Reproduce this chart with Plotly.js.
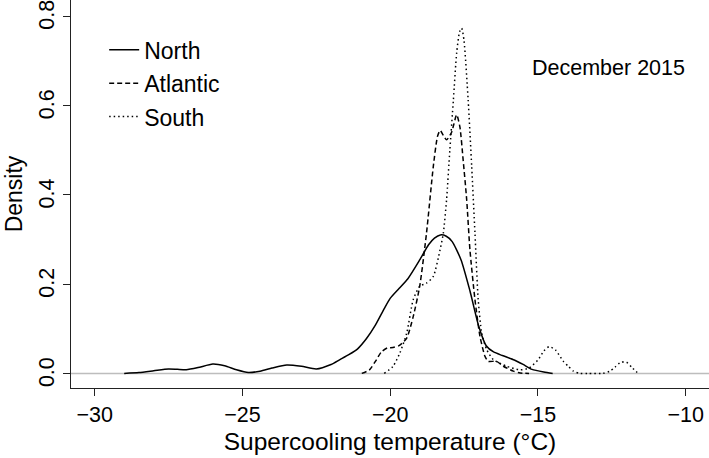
<!DOCTYPE html>
<html>
<head>
<meta charset="utf-8">
<script src="https://cdn.plot.ly/plotly-3.0.1.min.js"></script>
<style>
  html, body { margin: 0; padding: 0; background: #fff; }
  #chart { width: 709px; height: 458px; }
</style>
</head>
<body>
<div id="chart"></div>
<script>
// density curves, December 2015
const northX = [-29.0, -28.5, -28.0, -27.5, -27.2, -26.9, -26.5, -26.0, -25.6, -25.2, -24.8, -24.4, -24.0, -23.5, -23.0, -22.5, -22.0, -21.7, -21.4, -21.1, -20.8, -20.5, -20.2, -20.0, -19.7, -19.4, -19.0, -18.7, -18.5, -18.3, -18.1, -17.9, -17.6, -17.3, -17.0, -16.75, -16.5, -16.2, -15.8, -15.5, -15.2, -14.8, -14.5];
const northY = [0.000, 0.002, 0.006, 0.010, 0.009, 0.008, 0.013, 0.021, 0.017, 0.008, 0.002, 0.005, 0.012, 0.019, 0.016, 0.010, 0.020, 0.031, 0.042, 0.055, 0.078, 0.108, 0.145, 0.168, 0.190, 0.212, 0.254, 0.288, 0.303, 0.310, 0.307, 0.295, 0.254, 0.185, 0.105, 0.062, 0.048, 0.040, 0.030, 0.020, 0.009, 0.003, 0.000];

const atlanticX = [-20.96, -20.7, -20.46, -20.3, -20.1, -19.9, -19.7, -19.44, -19.22, -19.0, -18.77, -18.54, -18.4, -18.31, -18.2, -18.09, -17.92, -17.75, -17.64, -17.53, -17.41, -17.3, -17.13, -16.96, -16.79, -16.68, -16.4, -16.17, -15.83, -15.6, -15.3];
const atlanticY = [0.000, 0.008, 0.031, 0.048, 0.057, 0.058, 0.062, 0.079, 0.127, 0.195, 0.314, 0.463, 0.530, 0.544, 0.533, 0.523, 0.540, 0.579, 0.552, 0.478, 0.389, 0.277, 0.165, 0.083, 0.038, 0.027, 0.027, 0.016, 0.005, 0.001, 0.000];

const southX = [-20.2, -19.9, -19.67, -19.44, -19.22, -19.0, -18.77, -18.54, -18.31, -18.2, -18.09, -17.98, -17.86, -17.75, -17.65, -17.58, -17.5, -17.36, -17.24, -17.13, -17.02, -16.9, -16.73, -16.51, -16.06, -15.6, -15.3, -15.0, -14.8, -14.62, -14.4, -14.14, -13.97, -13.8, -13.58, -13.3, -12.8, -12.56, -12.39, -12.2, -12.0, -11.83, -11.64];
const southY = [0.000, 0.016, 0.046, 0.090, 0.165, 0.195, 0.202, 0.217, 0.277, 0.314, 0.389, 0.500, 0.612, 0.717, 0.765, 0.773, 0.745, 0.612, 0.463, 0.314, 0.165, 0.090, 0.053, 0.031, 0.016, 0.008, 0.012, 0.030, 0.050, 0.060, 0.052, 0.027, 0.016, 0.005, 0.000, 0.000, 0.000, 0.005, 0.014, 0.025, 0.025, 0.014, 0.002];

const seriesNames = ['North', 'Atlantic', 'South'];
const fontFamily = 'Liberation Sans, Arial, sans-serif';
const tickFont = { family: fontFamily, size: 21.5, color: '#000' };

const lineStyle = (dash) => ({ color: '#000', width: 1.5, dash: dash, shape: 'spline', smoothing: 0.6 });

// each trace in its own legend group so tracegroupgap spaces the rows like R's legend
const data = [
    { x: northX, y: northY, mode: 'lines', name: seriesNames[0], legendgroup: 'n', line: lineStyle('solid') },
    { x: atlanticX, y: atlanticY, mode: 'lines', name: seriesNames[1], legendgroup: 'a', line: lineStyle('5px,3px') },
    { x: southX, y: southY, mode: 'lines', name: seriesNames[2], legendgroup: 's', line: lineStyle('1.5px,3px') }
];

const layout = {
    width: 709,
    height: 458,
    margin: { l: 71, r: 0, t: 0, b: 70 },
    paper_bgcolor: '#fff',
    plot_bgcolor: '#fff',
    font: tickFont,
    showlegend: true,
    legend: {
        x: 0.052, y: 0.927, xanchor: 'left', yanchor: 'top',
        bgcolor: 'rgba(0,0,0,0)', borderwidth: 0,
        tracegroupgap: 0.5,
        font: { family: fontFamily, size: 23, color: '#000' }
    },
    xaxis: {
        range: [-30.8, -9.21],
        tick0: -30, dtick: 5,
        showgrid: false, zeroline: false,
        showline: true, linecolor: '#222', linewidth: 1,
        ticks: 'outside', ticklen: 7, tickcolor: '#222',
        tickfont: tickFont,
        title: { text: 'Supercooling temperature (°C)', font: { family: fontFamily, size: 24.5, color: '#000' }, standoff: 7 }
    },
    yaxis: {
        range: [-0.0327, 0.836],
        tick0: 0, dtick: 0.2, tickformat: '.1f',
        tickangle: -90,
        ticklabelshift: 2,
        ticklabeloverflow: 'allow',
        showgrid: false, zeroline: false,
        showline: true, linecolor: '#222', linewidth: 1,
        ticks: 'outside', ticklen: 7, tickcolor: '#222',
        tickfont: tickFont,
        title: { text: 'Density', font: { family: fontFamily, size: 23, color: '#000' }, standoff: 6 }
    },
    shapes: [{
        type: 'line', xref: 'paper', x0: 0, x1: 1, yref: 'y', y0: 0, y1: 0,
        line: { color: '#bdbdbd', width: 1.5 }, layer: 'below'
    }],
    annotations: [{
        text: 'December 2015', xref: 'x', yref: 'y', x: -12.6, y: 0.684,
        showarrow: false, xanchor: 'center', yanchor: 'middle',
        font: { family: fontFamily, size: 21.5, color: '#000' }
    }]
};

Plotly.newPlot('chart', data, layout, { displayModeBar: false, staticPlot: true });
</script>
</body>
</html>
